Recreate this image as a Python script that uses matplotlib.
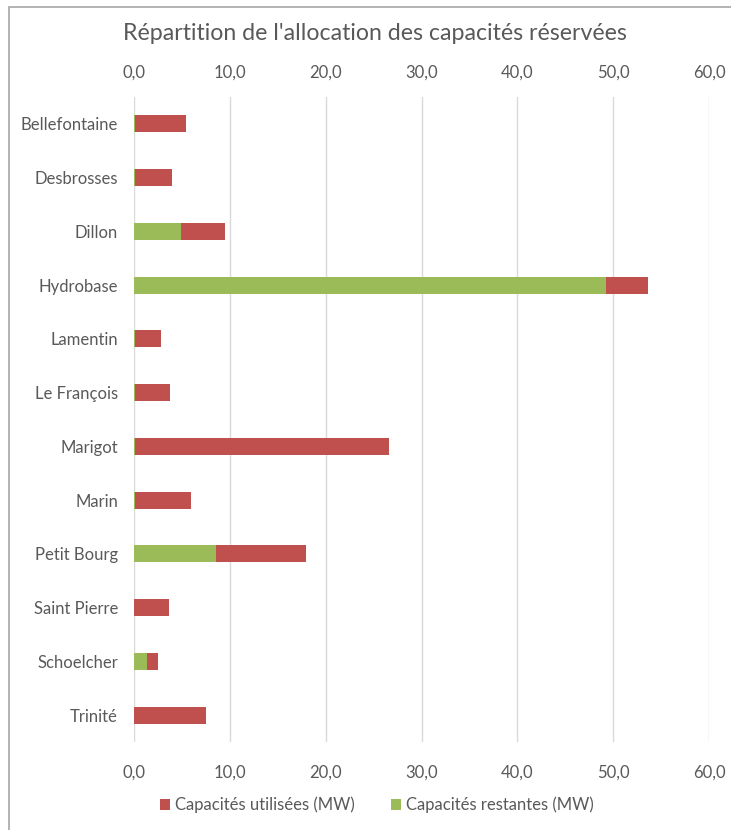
import matplotlib
matplotlib.use("Agg")
import matplotlib.pyplot as plt
import matplotlib.patches as mpatches
from matplotlib.ticker import FuncFormatter

plt.rcParams['font.family'] = ['Lato', 'DejaVu Sans']

sites = ['Bellefontaine', 'Desbrosses', 'Dillon', 'Hydrobase', 'Lamentin',
         'Le François', 'Marigot', 'Marin', 'Petit Bourg', 'Saint Pierre',
         'Schoelcher', 'Trinité']
restantes = [0.1, 0.1, 4.9, 49.3, 0.1, 0.1, 0.1, 0.1, 8.6, 0.0, 1.4, 0.0]
utilisees = [5.3, 3.85, 4.55, 4.3, 2.7, 3.7, 26.5, 5.8, 9.3, 3.65, 1.1, 7.5]
ticks = [0, 10, 20, 30, 40, 50, 60]

RED = '#C0504D'
GREEN = '#9BBB59'
TXT = '#595959'

fmt = FuncFormatter(lambda v, p: f'{v:.1f}'.replace('.', ','))

fig = plt.figure(figsize=(7.31, 8.30), dpi=100)
ax = fig.add_axes([134/731, 1 - 742/830, (709 - 134)/731, (742 - 97)/830])

ypos = list(range(len(sites)))
ax.barh(ypos, restantes, height=0.32, color=GREEN, label='Capacités restantes (MW)', zorder=3)
ax.barh(ypos, utilisees, left=restantes, height=0.32, color=RED,
        label='Capacités utilisées (MW)', zorder=3)

ax.set_ylim(len(sites) - 0.5, -0.5)
ax.set_yticks(ypos)
ax.set_yticklabels(sites)
ax.set_xlim(0, 60)
ax.set_xticks(ticks)
ax.xaxis.set_major_formatter(fmt)
ax.tick_params(axis='x', bottom=False, pad=13, labelsize=12, labelcolor=TXT)
ax.tick_params(axis='y', left=False, pad=8, labelsize=12, labelcolor=TXT)
ax.grid(axis='x', color='#D9D9D9', linewidth=1, zorder=0)
for s in ax.spines.values():
    s.set_visible(False)

top = ax.secondary_xaxis('top')
top.set_xticks(ticks)
top.xaxis.set_major_formatter(fmt)
top.tick_params(length=0, pad=12, labelsize=12, labelcolor=TXT)
top.spines['top'].set_visible(False)

fig.text(375/731, 1 - 33/830, "Répartition de l'allocation des capacités réservées",
         ha='center', va='center', fontsize=16.7, color=TXT)

h, l = ax.get_legend_handles_labels()
fig.legend(h[::-1], l[::-1], loc='center', bbox_to_anchor=(377/731, 1 - 805/830),
           ncol=2, frameon=False, fontsize=12, labelcolor=TXT,
           handlelength=0.6, handleheight=0.6, handletextpad=0.3, columnspacing=2.2)

# outer chart frame (cropped on right and bottom)
fig.patches.append(mpatches.Rectangle((9/731, -0.1), 1.2, 1.1 - 7/830, transform=fig.transFigure,
                                      fill=False, edgecolor='#A6A6A6', linewidth=1.2))

plt.savefig("out.png", dpi=100)
